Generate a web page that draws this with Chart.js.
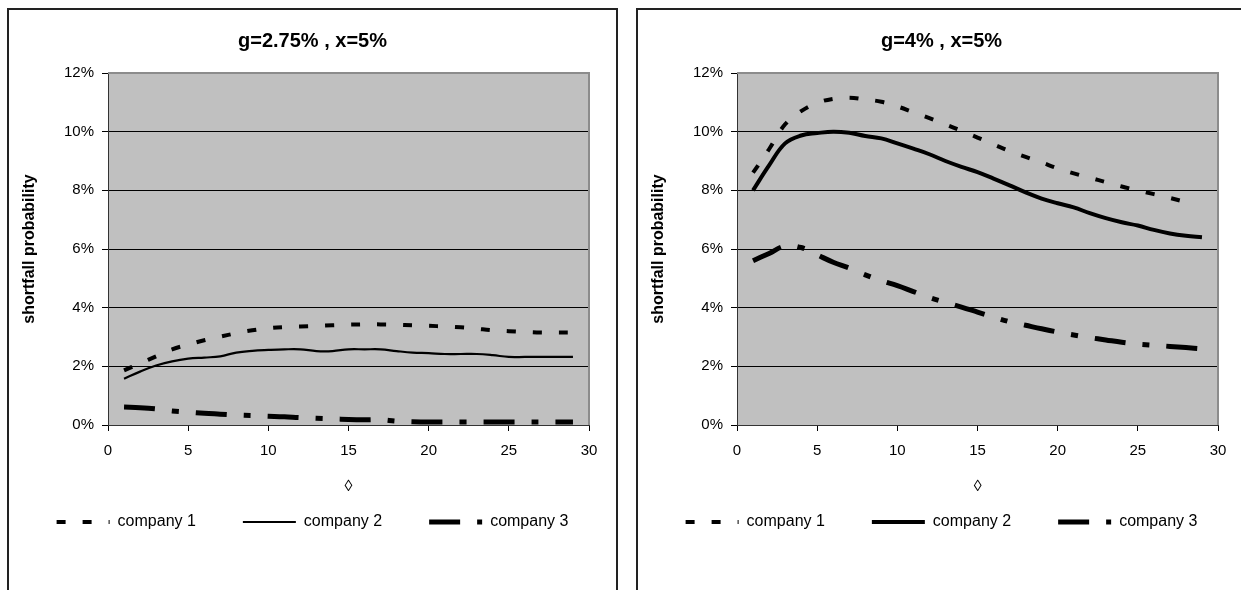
<!DOCTYPE html>
<html><head><meta charset="utf-8">
<script src="https://cdn.jsdelivr.net/npm/chart.js@4.4.1/dist/chart.umd.min.js"></script>
<style>
html,body{margin:0;padding:0;background:#fff;overflow:hidden;}
.panel{position:absolute;top:8px;width:607px;height:600px;border:2px solid #222;background:#fff;}
#p1{left:7px;} #p2{left:636px;}
canvas{display:block;}
</style></head><body>
<div class="panel" id="p1"><canvas id="c1" width="607" height="600"></canvas></div>
<div class="panel" id="p2"><canvas id="c2" width="607" height="600"></canvas></div>
<script>
// ---- data ----
const periods = [1,2,3,4,5,6,7,8,9,10,11,12,13,14,15,16,17,18,19,20,21,22,23,24,25,26,27,28,29];
const seriesNames = ['company 1','company 2','company 3'];
const titleLeft = 'g=2.75% , x=5%';
const titleRight = 'g=4% , x=5%';
const yAxisTitle = 'shortfall probability';
const xAxisTitle = '\u25CA';
const yTicks = [0,2,4,6,8,10,12];
const xTicks = [0,5,10,15,20,25,30];
// left chart (g=2.75%), shortfall probability in %
const g275_company1 = [1.86,2.10,2.34,2.58,2.74,2.89,3.01,3.13,3.23,3.30,3.34,3.36,3.38,3.40,3.42,3.43,3.43,3.42,3.40,3.38,3.36,3.33,3.28,3.23,3.20,3.17,3.15,3.15,3.15];
const g275_company2 = [1.58,1.82,2.03,2.17,2.26,2.30,2.34,2.47,2.53,2.56,2.58,2.58,2.52,2.52,2.58,2.58,2.58,2.52,2.47,2.45,2.42,2.42,2.42,2.38,2.32,2.32,2.32,2.32,2.32];
const g275_company3 = [0.61,0.59,0.55,0.48,0.44,0.40,0.37,0.34,0.32,0.30,0.28,0.25,0.23,0.21,0.19,0.18,0.18,0.13,0.11,0.10,0.10,0.10,0.10,0.10,0.10,0.10,0.10,0.10,0.10];
// right chart (g=4%)
const g4_company1 = [8.60,9.40,10.25,10.70,10.98,11.12,11.16,11.10,11.02,10.86,10.66,10.46,10.25,10.03,9.80,9.57,9.34,9.14,8.95,8.75,8.58,8.43,8.28,8.13,8.00,7.87,7.74,7.60,null];
const g4_company2 = [8.00,8.85,9.60,9.87,9.95,10.00,9.96,9.85,9.77,9.60,9.42,9.23,9.00,8.80,8.62,8.40,8.17,7.93,7.72,7.56,7.42,7.22,7.05,6.91,6.80,6.65,6.53,6.45,6.40];
const g4_company3 = [5.60,5.85,6.10,6.05,5.80,5.55,5.35,5.12,4.92,4.75,4.55,4.35,4.18,4.02,3.85,3.68,3.52,3.40,3.28,3.17,3.07,2.98,2.90,2.82,2.76,2.72,2.68,2.64,2.60];

Chart.defaults.font.family = "'Liberation Sans', Arial, sans-serif";
Chart.defaults.color = '#000';

const plotBg = {
  id: 'plotBg',
  beforeDraw(chart) {
    const a = chart.chartArea, ctx = chart.ctx;
    ctx.save();
    ctx.fillStyle = '#c0c0c0';
    ctx.fillRect(a.left, a.top, a.right - a.left, a.bottom - a.top);
    ctx.restore();
  },
  afterDraw(chart) {
    const a = chart.chartArea, ctx = chart.ctx;
    ctx.save();
    ctx.strokeStyle = '#8c8c8c';
    ctx.lineWidth = 2;
    ctx.beginPath();
    ctx.moveTo(a.left, a.top);
    ctx.lineTo(a.right, a.top);
    ctx.lineTo(a.right, a.bottom);
    ctx.stroke();
    ctx.restore();
  }
};

function pts(vals) { return periods.map((p, i) => ({x: p, y: vals[i]})); }

function makeChart(id, title, xTitleItalic, s1, s2, s3, w2) {
  const styles = [
    {borderWidth: 4, borderDash: [9, 17]},
    {borderWidth: w2, borderDash: []},
    {borderWidth: 5, borderDash: [31, 17, 7, 17]}
  ];
  const vals = [s1, s2, s3];
  return new Chart(document.getElementById(id), {
    type: 'line',
    data: {
      datasets: seriesNames.map((n, i) => ({
        label: n,
        data: pts(vals[i]),
        borderColor: '#000',
        backgroundColor: '#000',
        borderWidth: styles[i].borderWidth,
        borderDash: styles[i].borderDash,
        borderCapStyle: 'butt',
        pointRadius: 0,
        pointHoverRadius: 0,
        tension: 0.4,
        fill: false,
        spanGaps: false,
        xAxisID: 'x', yAxisID: 'y'
      }))
    },
    options: {
      responsive: false,
      animation: false,
      devicePixelRatio: 1,
      events: [],
      layout: {padding: {left: 0, right: 0, top: 0, bottom: 70}},
      plugins: {
        title: {
          display: true, text: title,
          font: {size: 20, weight: 'bold'},
          padding: {top: 19.7, bottom: 19.3}
        },
        legend: {
          position: 'bottom',
          labels: {
            usePointStyle: true,
            pointStyle: 'line',
            pointStyleWidth: 53,
            font: {size: 16},
            padding: 47,
            generateLabels(chart) {
              const items = Chart.defaults.plugins.legend.labels.generateLabels(chart);
              items.forEach(it => {
                const ds = chart.data.datasets[it.datasetIndex];
                it.lineDash = ds.borderDash;
                it.lineWidth = ds.borderWidth;
                it.lineCap = 'butt';
                it.lineDashOffset = 0;
                it.strokeStyle = '#000';
                it.fillStyle = '#000';
              });
              return items;
            }
          }
        },
        tooltip: {enabled: false}
      },
      scales: {
        x: {
          type: 'linear', min: 0, max: 30,
          afterBuildTicks(scale) { scale.ticks = xTicks.map(v => ({value: v})); },
          ticks: {font: {size: 15}, padding: 11, maxRotation: 0},
          grid: {drawOnChartArea: false, tickLength: 6, tickColor: '#000'},
          border: {color: '#333', width: 1},
          title: {display: true, text: xAxisTitle, font: {size: 16, style: xTitleItalic ? 'italic' : 'normal'}, padding: {top: 0, bottom: -29.6}},
          afterFit(scale) { scale.height = 42; }
        },
        y: {
          min: 0, max: 12,
          afterBuildTicks(scale) { scale.ticks = yTicks.map(v => ({value: v})); },
          ticks: {font: {size: 15}, padding: 8, callback: v => v + '%'},
          grid: {
            tickLength: 6, tickColor: '#000', lineWidth: 1,
            color: c => (c.tick && c.tick.value > 0 && c.tick.value < 12) ? '#000' : 'rgba(0,0,0,0)'
          },
          border: {color: '#333', width: 1},
          title: {display: true, text: yAxisTitle, font: {size: 16, weight: 'bold'}, padding: {top: 11.4, bottom: 0}},
          afterFit(scale) { scale.width = 99; }
        },
        yR: {
          position: 'right', display: true, min: 0, max: 1,
          ticks: {display: false},
          grid: {display: false, drawTicks: false},
          border: {display: false},
          afterFit(scale) { scale.width = 27; }
        }
      }
    },
    plugins: [plotBg]
  });
}

makeChart('c1', titleLeft, false, g275_company1, g275_company2, g275_company3, 2.2);
makeChart('c2', titleRight, true, g4_company1, g4_company2, g4_company3, 4);
</script>
</body></html>
